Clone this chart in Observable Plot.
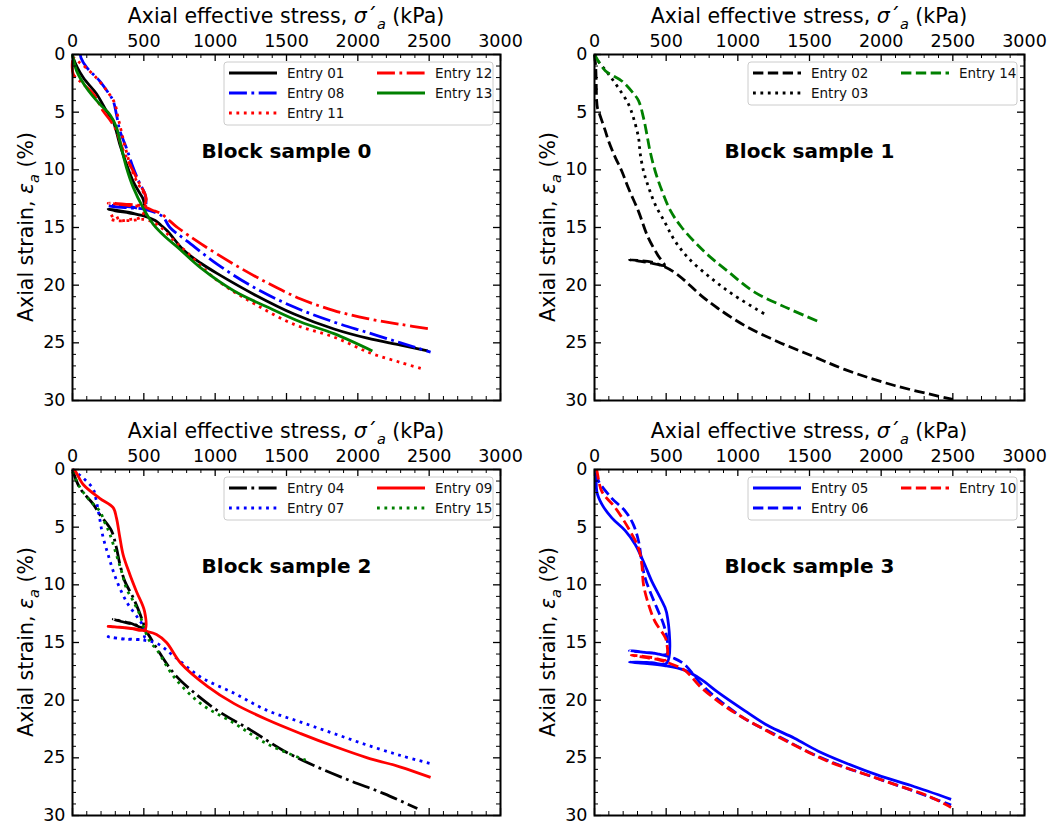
<!DOCTYPE html>
<html><head><meta charset="utf-8">
<script src="https://cdn.jsdelivr.net/npm/d3@7"></script>
<script src="https://cdn.jsdelivr.net/npm/@observablehq/plot@0.6"></script>
<style>
body{margin:0;background:#fff;width:1057px;height:824px;overflow:hidden;font-family:"DejaVu Sans",sans-serif}
#root{position:relative;width:1057px;height:824px}
.panel{position:absolute}
</style></head><body><div id="root"></div>
<script>
// ---- tick values ----
const xTicks = [0, 500, 1000, 1500, 2000, 2500, 3000];
const xMinor = [100,200,300,400,600,700,800,900,1100,1200,1300,1400,1600,1700,1800,1900,2100,2200,2300,2400,2600,2700,2800,2900];
const yTicks = [0, 5, 10, 15, 20, 25, 30];
const yMinor = [1,2,3,4,6,7,8,9,11,12,13,14,16,17,18,19,21,22,23,24,26,27,28,29];

// ---- panel titles ----
const titles = ["Block sample 0", "Block sample 1", "Block sample 2", "Block sample 3"];

// ---- series: [axial effective stress (kPa), axial strain (%)] ----
// Block sample 0
const entry01 = [[0,0],[5,0.3],[75,2.0],[168,3.4],[238,4.9],[285,5.8],[332,7.8],[378,9.5],[425,11.0],[470,12.0],[497,12.6],[500,13.9],[400,13.7],[300,13.5],[250,13.4],[300,13.55],[400,13.75],[500,14.0],[580,14.4],[620,14.8],[665,15.3],[782,17.0],[900,18.1],[1016,19.0],[1273,20.8],[1553,22.5],[1833,23.8],[2067,24.6],[2300,25.2],[2490,25.7]];
const entry08 = [[55,0],[60,0.3],[98,1.1],[191,2.3],[250,3.3],[285,4.0],[308,5.2],[332,6.6],[378,8.1],[425,9.8],[472,11.2],[505,12.0],[515,12.6],[505,13.3],[400,13.2],[300,13.1],[250,13.1],[300,13.2],[400,13.3],[500,13.4],[580,13.7],[636,14.1],[683,15.0],[806,16.2],[1016,18.2],[1273,20.2],[1553,21.9],[1833,23.2],[2067,24.1],[2300,25.0],[2510,25.8]];
const entry11 = [[0,0.2],[40,0.6],[100,1.2],[180,2.2],[250,3.3],[295,4.2],[320,5.5],[345,6.8],[375,8.3],[410,9.8],[450,11.0],[490,11.8],[515,12.5],[510,13.3],[480,14.1],[400,14.3],[330,14.4],[300,13.9],[260,14.2],[300,14.4],[400,14.4],[500,14.3],[560,14.5],[620,15.0],[700,16.0],[806,17.2],[1016,19.6],[1273,21.6],[1553,23.4],[1833,24.5],[2090,25.9],[2300,26.7],[2463,27.3]];
const entry12 = [[0,0.5],[5,1.7],[51,2.3],[145,3.4],[215,4.9],[270,5.8],[308,6.6],[340,7.8],[380,9.0],[425,10.1],[470,11.2],[505,12.0],[515,12.4],[505,13.0],[400,13.0],[300,12.9],[250,12.9],[300,12.95],[400,13.1],[500,13.2],[560,13.5],[619,13.8],[736,15.0],[899,16.4],[1133,18.2],[1366,19.8],[1600,21.2],[1833,22.2],[2067,22.9],[2300,23.4],[2510,23.8]];
const entry13 = [[0,0],[5,0.3],[28,1.4],[98,2.9],[191,4.3],[262,5.2],[308,6.3],[343,8.1],[378,9.8],[425,11.5],[495,13.3],[565,14.7],[650,15.8],[736,16.7],[899,18.5],[1133,20.5],[1366,21.9],[1600,23.2],[1833,24.2],[2102,25.7]];
// Block sample 1
const entry02 = [[0,0],[8,1.0],[12,2.5],[15,4.0],[20,4.6],[28,4.9],[75,6.6],[98,7.5],[144,8.9],[190,10.1],[237,11.6],[307,13.6],[372,15.8],[442,17.4],[488,18.3],[400,18.0],[300,17.85],[244,17.8],[300,17.9],[400,18.1],[488,18.4],[581,19.1],[744,20.9],[860,22.0],[1047,23.5],[1279,24.9],[1512,26.1],[1744,27.3],[2093,28.7],[2500,29.9]];
const entry03 = [[0,0],[28,0.6],[98,1.7],[167,2.9],[237,4.3],[272,5.5],[307,7.2],[319,8.6],[342,10.1],[377,11.5],[423,13.0],[493,14.6],[558,16.1],[651,17.6],[814,19.4],[977,20.9],[1186,22.5]];
const entry14 = [[0,0],[75,1.4],[190,2.3],[260,3.2],[307,4.0],[342,5.5],[365,6.9],[388,8.4],[423,10.1],[470,11.8],[528,13.5],[609,15.0],[767,17.1],[930,18.8],[1116,20.6],[1349,22.0],[1570,23.2]];
// Block sample 2
const entry04 = [[0,0],[51,1.6],[145,3.0],[191,3.9],[273,5.3],[308,6.8],[332,8.2],[367,9.7],[425,11.1],[484,12.9],[500,13.7],[400,13.3],[285,13.0],[350,13.2],[450,13.5],[500,13.8],[595,15.6],[712,17.7],[829,19.1],[1016,20.9],[1249,22.6],[1483,24.4],[1716,25.8],[1950,27.0],[2183,28.1],[2417,29.4]];
const entry07 = [[0,0],[80,0.8],[145,1.7],[165,2.6],[191,4.3],[215,5.9],[250,7.4],[285,8.8],[332,10.3],[390,11.7],[460,12.9],[495,13.6],[500,14.6],[400,14.7],[300,14.6],[250,14.5],[350,14.7],[500,14.8],[595,15.1],[712,16.2],[899,18.0],[1133,19.4],[1366,20.9],[1600,21.9],[1833,22.9],[2067,23.9],[2300,24.8],[2510,25.5]];
const entry09 = [[0,0],[16,0.1],[75,1.3],[191,2.5],[285,3.3],[308,4.2],[332,5.9],[355,7.4],[402,9.1],[449,10.6],[505,12.3],[507,13.9],[400,13.75],[300,13.65],[250,13.6],[350,13.7],[450,13.85],[507,14.0],[589,14.3],[659,15.0],[759,16.8],[946,18.8],[1133,20.3],[1366,21.7],[1600,22.9],[1833,24.0],[2067,25.0],[2300,25.8],[2510,26.7]];
const entry15 = [[0,0.2],[40,1.3],[121,2.7],[191,3.6],[226,4.6],[262,5.6],[308,7.4],[343,8.8],[378,10.3],[425,11.4],[472,12.6],[500,13.7],[542,14.9],[595,15.7],[712,18.0],[899,20.3],[1133,22.0],[1366,23.8],[1634,25.2]];
// Block sample 3
const entry05 = [[16,0],[16,1.9],[51,3.0],[121,4.2],[214,5.3],[284,6.5],[342,8.0],[400,9.7],[458,11.1],[503,12.4],[503,16.8],[400,16.75],[300,16.7],[244,16.7],[350,16.8],[488,17.0],[628,17.4],[744,18.2],[860,19.3],[1047,20.9],[1209,22.2],[1395,23.3],[1558,24.4],[1744,25.4],[1977,26.5],[2209,27.4],[2488,28.6]];
const entry06 = [[12,0.3],[28,1.0],[121,2.5],[214,3.6],[272,4.8],[307,6.2],[330,8.0],[353,9.4],[388,10.6],[435,12.0],[481,13.4],[505,14.6],[505,16.0],[400,15.9],[300,15.8],[244,15.7],[350,15.85],[450,16.0],[560,16.4],[628,16.9],[744,18.6],[860,19.9],[1047,21.6],[1279,23.1],[1512,24.6],[1744,25.8],[1977,26.8],[2209,27.8],[2488,29.1]];
const entry10 = [[12,0],[16,0.1],[51,1.9],[144,3.3],[237,5.1],[307,6.8],[330,8.2],[342,10.0],[377,11.7],[423,13.2],[481,14.3],[500,14.8],[500,16.5],[400,16.3],[300,16.15],[256,16.1],[350,16.3],[450,16.5],[500,16.7],[628,17.4],[744,18.9],[930,20.7],[1163,22.4],[1395,23.9],[1628,25.3],[1860,26.3],[2093,27.3],[2326,28.3],[2488,29.3]];

// ---- series names / styles per panel ----
const LW = 2.8;
const dashes = {solid: null, dashed: `${3.7*LW},${1.6*LW}`, dotted: `${LW},${1.65*LW}`, dashdot: `${6.4*LW},${1.6*LW},${LW},${1.6*LW}`};
const panelSeries = [
  [["Entry 01", entry01, "#000000", "solid"], ["Entry 08", entry08, "#0000ff", "dashdot"], ["Entry 11", entry11, "#ff0000", "dotted"], ["Entry 12", entry12, "#ff0000", "dashdot"], ["Entry 13", entry13, "#008000", "solid"]],
  [["Entry 02", entry02, "#000000", "dashed"], ["Entry 03", entry03, "#000000", "dotted"], ["Entry 14", entry14, "#008000", "dashed"]],
  [["Entry 04", entry04, "#000000", "dashdot"], ["Entry 07", entry07, "#0000ff", "dotted"], ["Entry 09", entry09, "#ff0000", "solid"], ["Entry 15", entry15, "#008000", "dotted"]],
  [["Entry 05", entry05, "#0000ff", "solid"], ["Entry 06", entry06, "#0000ff", "dashed"], ["Entry 10", entry10, "#ff0000", "dashed"]]
];

// ---- layout ----
const layouts = [
  {left: 0, top: 0, ml: 72, mr: 28},
  {left: 527, top: 0, ml: 67, mr: 31},
  {left: 0, top: 415, ml: 72, mr: 28},
  {left: 527, top: 415, ml: 67, mr: 31}
];
const W = 528, H = 409, MT = 54, MB = 9;

const root = document.getElementById("root");
panelSeries.forEach((series, i) => {
  const L = layouts[i];
  const FW = W - L.ml - L.mr, FH = H - MT - MB;
  const marks = [];
  series.forEach(([name, data, color, style]) => {
    marks.push(Plot.line(data, {x: d => d[0], y: d => d[1], stroke: color, strokeWidth: LW,
      curve: "catmull-rom",
      strokeDasharray: dashes[style], strokeLinecap: "butt", strokeLinejoin: "round"}));
  });
  marks.push(
    Plot.text([titles[i]], {text: d => d, frameAnchor: "top", dy: 97, lineAnchor: "middle",
      fontWeight: "bold", fontSize: 20, fill: "black"}),
    Plot.ruleX(xTicks, {insetBottom: FH - 7, stroke: "black", strokeWidth: 1.3}),
    Plot.ruleX(xTicks, {insetTop: FH - 7, stroke: "black", strokeWidth: 1.3}),
    Plot.ruleX(xMinor, {insetBottom: FH - 4, stroke: "black", strokeWidth: 1}),
    Plot.ruleX(xMinor, {insetTop: FH - 4, stroke: "black", strokeWidth: 1}),
    Plot.ruleY(yTicks, {insetRight: FW - 7, stroke: "black", strokeWidth: 1.3}),
    Plot.ruleY(yTicks, {insetLeft: FW - 7, stroke: "black", strokeWidth: 1.3}),
    Plot.ruleY(yMinor, {insetRight: FW - 4, stroke: "black", strokeWidth: 1}),
    Plot.ruleY(yMinor, {insetLeft: FW - 4, stroke: "black", strokeWidth: 1}),
    Plot.frame({stroke: "black", strokeWidth: 2}),
    Plot.axisX({anchor: "top", ticks: xTicks, tickSize: 0, tickPadding: 8, tickFormat: d => String(d), label: null, fontSize: 17.5}),
    Plot.axisY({anchor: "left", ticks: yTicks, tickSize: 0, tickPadding: 7, tickFormat: d => String(d), label: null, fontSize: 17.5})
  );
  const svgEl = Plot.plot({
    width: W, height: H, marginLeft: L.ml, marginRight: L.mr, marginTop: MT, marginBottom: MB,
    x: {domain: [0, 3000]},
    y: {domain: [0, 30], reverse: true},
    style: {fontFamily: "DejaVu Sans", fontSize: "17.5px", color: "black", background: "transparent", overflow: "visible"},
    marks
  });
  const svg = d3.select(svgEl);
  // x label
  const xl = svg.append("text").attr("x", L.ml + FW / 2).attr("y", 23).attr("text-anchor", "middle")
    .attr("font-size", 20.5).attr("fill", "black");
  xl.append("tspan").text("Axial effective stress, ");
  xl.append("tspan").attr("font-style", "italic").text("σ");
  xl.append("tspan").text("´");
  xl.append("tspan").attr("font-style", "italic").attr("font-size", 14.5).attr("dy", 5.5).text("a");
  xl.append("tspan").attr("dy", -5.5).text(" (kPa)");
  // y label
  const yx = L.ml - 39, yy = MT + FH / 2;
  const yl = svg.append("text").attr("x", yx).attr("y", yy).attr("text-anchor", "middle")
    .attr("transform", `rotate(-90,${yx},${yy})`).attr("font-size", 20.5).attr("fill", "black");
  yl.append("tspan").text("Axial strain, ");
  yl.append("tspan").attr("font-style", "italic").text("ε");
  yl.append("tspan").attr("font-style", "italic").attr("font-size", 14.5).attr("dy", 5.5).text("a");
  yl.append("tspan").attr("dy", -5.5).text(" (%)");
  // legend (2 columns, column-major)
  const n = series.length, rows = Math.ceil(n / 2);
  const LWd = 269, lx = L.ml + FW - 7 - LWd, ly = MT + 8;
  const g = svg.append("g").attr("transform", `translate(${lx},${ly})`);
  g.append("rect").attr("width", LWd).attr("height", rows * 20 + 3).attr("rx", 3)
    .attr("fill", "white").attr("fill-opacity", 0.8).attr("stroke", "#cccccc").attr("stroke-width", 1);
  series.forEach(([name, data, color, style], k) => {
    const col = Math.floor(k / rows), row = k % rows;
    const ox = col * 148, oy = 11 + row * 20;
    g.append("line").attr("x1", ox + 5).attr("x2", ox + 53).attr("y1", oy).attr("y2", oy)
      .attr("stroke", color).attr("stroke-width", LW).attr("stroke-dasharray", dashes[style]);
    g.append("text").attr("x", ox + 63).attr("y", oy).attr("dominant-baseline", "central")
      .attr("text-anchor", "start").attr("font-size", 13.5).attr("fill", "#111").text(name);
  });
  const div = document.createElement("div");
  div.className = "panel";
  div.style.left = L.left + "px";
  div.style.top = L.top + "px";
  div.appendChild(svgEl);
  root.appendChild(div);
});
</script></body></html>
